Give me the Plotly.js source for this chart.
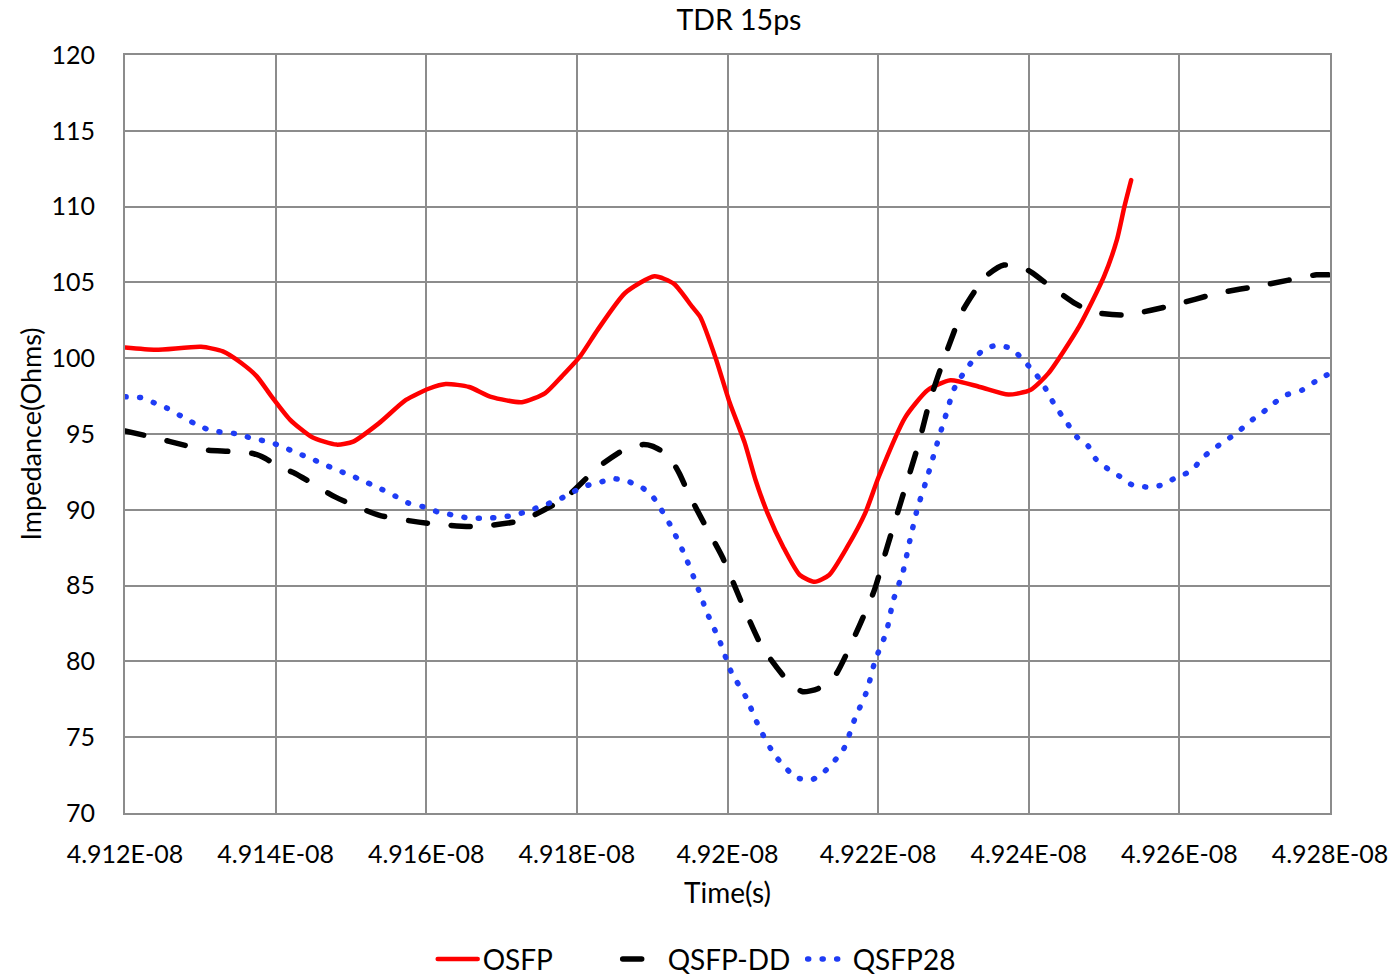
<!DOCTYPE html>
<html>
<head>
<meta charset="utf-8">
<script src="https://cdn.plot.ly/plotly-3.0.1.min.js"></script>
<style>
  html, body { margin: 0; padding: 0; background: #ffffff; }
  #chart { width: 1398px; height: 976px; }
</style>
</head>
<body>
<div id="chart"></div>
<script>
// TDR impedance profiles, 15 ps rise time
const seriesNames = ['OSFP', 'QSFP-DD', 'QSFP28'];

const osfpTime = [
  4.91200e-8, 4.91241e-8, 4.91301e-8, 4.91330e-8, 4.91354e-8, 4.91375e-8, 4.91395e-8,
  4.91419e-8, 4.91448e-8, 4.91481e-8, 4.91503e-8, 4.91537e-8, 4.91573e-8, 4.91604e-8,
  4.91626e-8, 4.91657e-8, 4.91686e-8, 4.91727e-8, 4.91758e-8, 4.91780e-8, 4.91804e-8,
  4.91828e-8, 4.91864e-8, 4.91903e-8, 4.91929e-8, 4.91953e-8, 4.91964e-8, 4.91985e-8,
  4.92002e-8, 4.92023e-8, 4.92037e-8, 4.92053e-8, 4.92074e-8, 4.92096e-8, 4.92116e-8,
  4.92135e-8, 4.92159e-8, 4.92183e-8, 4.92201e-8, 4.92236e-8, 4.92266e-8, 4.92296e-8,
  4.92335e-8, 4.92373e-8, 4.92402e-8, 4.92426e-8, 4.92467e-8, 4.92500e-8, 4.92517e-8,
  4.92527e-8, 4.92536e-8
];
const osfpZ = [
  100.7, 100.55, 100.75, 100.45, 99.7, 98.8, 97.45,
  95.95, 94.8, 94.3, 94.5, 95.7, 97.25, 98.0,
  98.3, 98.1, 97.45, 97.1, 97.7, 98.8, 100.1,
  101.9, 104.3, 105.4, 104.9, 103.4, 102.7, 99.9,
  97.2, 94.4, 92.0, 89.8, 87.55, 85.7, 85.25,
  85.7, 87.55, 89.8, 92.2, 96.1, 97.9, 98.55,
  98.1, 97.6, 97.9, 99.0, 102.1, 105.4, 107.8,
  110.0, 111.75
];

const qsfpddTime = [
  4.91200e-8, 4.91236e-8, 4.91260e-8, 4.91306e-8, 4.91339e-8, 4.91371e-8, 4.91386e-8,
  4.91406e-8, 4.91426e-8, 4.91479e-8, 4.91537e-8, 4.91604e-8, 4.91665e-8, 4.91727e-8,
  4.91775e-8, 4.91792e-8, 4.91828e-8, 4.91864e-8, 4.91888e-8, 4.91900e-8, 4.91921e-8,
  4.91936e-8, 4.91948e-8, 4.91969e-8, 4.91993e-8, 4.92019e-8, 4.92046e-8, 4.92082e-8,
  4.92100e-8, 4.92120e-8, 4.92142e-8, 4.92171e-8, 4.92195e-8, 4.92212e-8, 4.92231e-8,
  4.92254e-8, 4.92269e-8, 4.92290e-8, 4.92313e-8, 4.92343e-8, 4.92367e-8, 4.92399e-8,
  4.92423e-8, 4.92462e-8, 4.92485e-8, 4.92527e-8, 4.92592e-8, 4.92652e-8, 4.92710e-8,
  4.92782e-8, 4.92798e-8
];
const qsfpddZ = [
  95.2, 94.8, 94.5, 93.95, 93.85, 93.7, 93.4,
  92.8, 92.4, 90.85, 89.65, 89.1, 88.9, 89.3,
  90.5, 91.1, 92.8, 94.0, 94.3, 94.2, 93.6,
  92.4, 91.1, 89.1, 86.9, 83.85, 80.95, 78.6,
  78.0, 78.2, 79.0, 81.9, 84.7, 87.55, 90.65,
  94.4, 97.25, 100.3, 103.2, 105.4, 106.15, 105.8,
  104.95, 103.6, 103.05, 102.85, 103.5, 104.3, 104.8,
  105.5, 105.5
];

const qsfp28Time = [
  4.91200e-8, 4.91221e-8, 4.91239e-8, 4.91256e-8, 4.91274e-8, 4.91292e-8, 4.91310e-8,
  4.91330e-8, 4.91351e-8, 4.91369e-8, 4.91390e-8, 4.91407e-8, 4.91426e-8, 4.91446e-8,
  4.91464e-8, 4.91483e-8, 4.91503e-8, 4.91521e-8, 4.91541e-8, 4.91559e-8, 4.91576e-8,
  4.91596e-8, 4.91616e-8, 4.91636e-8, 4.91657e-8, 4.91677e-8, 4.91697e-8, 4.91717e-8,
  4.91737e-8, 4.91756e-8, 4.91775e-8, 4.91792e-8, 4.91810e-8, 4.91829e-8, 4.91849e-8,
  4.91869e-8, 4.91887e-8, 4.91901e-8, 4.91924e-8, 4.91942e-8, 4.91958e-8, 4.91973e-8,
  4.91990e-8, 4.92005e-8, 4.92025e-8, 4.92042e-8, 4.92063e-8, 4.92091e-8, 4.92112e-8,
  4.92128e-8, 4.92154e-8, 4.92169e-8, 4.92185e-8, 4.92196e-8, 4.92211e-8, 4.92220e-8,
  4.92233e-8, 4.92242e-8, 4.92252e-8, 4.92265e-8, 4.92277e-8, 4.92289e-8, 4.92302e-8,
  4.92325e-8, 4.92341e-8, 4.92359e-8, 4.92378e-8, 4.92394e-8, 4.92407e-8, 4.92419e-8,
  4.92428e-8, 4.92440e-8, 4.92452e-8, 4.92464e-8, 4.92479e-8, 4.92489e-8, 4.92505e-8,
  4.92521e-8, 4.92537e-8, 4.92559e-8, 4.92578e-8, 4.92598e-8, 4.92616e-8, 4.92629e-8,
  4.92645e-8, 4.92661e-8, 4.92677e-8, 4.92693e-8, 4.92710e-8, 4.92726e-8, 4.92743e-8,
  4.92763e-8, 4.92780e-8, 4.92796e-8
];
const qsfp28Z = [
  97.45, 97.4, 97.05, 96.7, 96.2, 95.7, 95.3,
  95.1, 95.0, 94.7, 94.5, 94.2, 93.8, 93.4,
  93.0, 92.6, 92.2, 91.8, 91.35, 90.9, 90.45,
  90.2, 89.85, 89.65, 89.45, 89.45, 89.5, 89.65,
  89.95, 90.3, 90.65, 91.1, 91.55, 91.8, 92.05,
  91.85, 91.45, 90.85, 89.0, 87.15, 85.2, 83.2,
  81.3, 79.3, 77.6, 75.65, 73.8, 72.35, 72.2,
  72.7, 74.2, 76.2, 78.05, 80.05, 81.95, 84.0,
  85.9, 87.95, 90.05, 92.1, 94.15, 96.1, 98.1,
  99.8, 100.6, 100.85, 100.6, 99.8, 99.1, 98.3,
  97.45, 96.5, 95.65, 94.8, 94.2, 93.35, 92.7,
  92.2, 91.65, 91.5, 91.65, 92.2, 92.55, 93.35,
  94.0, 94.55, 95.1, 95.8, 96.4, 97.05, 97.6,
  97.9, 98.45, 98.9
];

const timeTicks = [4.912e-8, 4.914e-8, 4.916e-8, 4.918e-8, 4.920e-8, 4.922e-8, 4.924e-8, 4.926e-8, 4.928e-8];
const timeTickLabels = ['4.912E-08', '4.914E-08', '4.916E-08', '4.918E-08', '4.92E-08',
                        '4.922E-08', '4.924E-08', '4.926E-08', '4.928E-08'];

const FONT = 'Lato, "Open Sans", sans-serif';
const GRID = '#8c8c8c';

const traces = [
  {
    name: seriesNames[0], x: osfpTime, y: osfpZ, type: 'scatter', mode: 'lines',
    line: { color: '#ff0000', width: 4.5, shape: 'spline', smoothing: 0.6 }
  },
  {
    name: seriesNames[1], x: qsfpddTime, y: qsfpddZ, type: 'scatter', mode: 'lines',
    line: { color: '#000000', width: 5.5, shape: 'spline', smoothing: 0.6, dash: '19px,24px' }
  },
  {
    name: seriesNames[2], x: qsfp28Time, y: qsfp28Z, type: 'scatter', mode: 'lines',
    line: { color: '#1f3cf5', width: 5.5, shape: 'spline', smoothing: 0.6, dash: '1px,13.5px' }
  }
];

const layout = {
  width: 1398,
  height: 976,
  paper_bgcolor: '#ffffff',
  plot_bgcolor: '#ffffff',
  font: { family: FONT, color: '#000000', size: 25 },
  margin: { l: 125, r: 68, t: 55, b: 163 },
  title: {
    text: 'TDR 15ps',
    font: { family: FONT, size: 28.5, color: '#000000' },
    xref: 'paper', x: 0.5095, xanchor: 'center',
    y: 0.979, yanchor: 'middle', yref: 'container'
  },
  showlegend: true,
  legend: {
    orientation: 'h',
    xref: 'container', x: 0.508, xanchor: 'center',
    yref: 'container', y: 0.017, yanchor: 'middle',
    font: { family: FONT, size: 28, color: '#000000' },
    itemwidth: 40,
    entrywidth: 130, entrywidthmode: 'pixels',
    bgcolor: 'rgba(0,0,0,0)'
  },
  xaxis: {
    range: [4.912e-8, 4.928e-8],
    tickmode: 'array',
    tickvals: timeTicks,
    ticktext: timeTickLabels,
    automargin: false,
    showgrid: true, gridcolor: GRID, gridwidth: 2,
    showline: true, linecolor: GRID, linewidth: 2, mirror: true,
    zeroline: false, ticks: '',
    ticklabelstandoff: 18,
    tickfont: { family: FONT, size: 25, color: '#000000' },
    title: { text: 'Time(s)', font: { family: FONT, size: 28, color: '#000000' }, standoff: 16 }
  },
  yaxis: {
    range: [70, 120],
    dtick: 5, tick0: 70,
    automargin: false,
    showgrid: true, gridcolor: GRID, gridwidth: 2,
    showline: true, linecolor: GRID, linewidth: 2, mirror: true,
    zeroline: false, ticks: '',
    ticklabelstandoff: 23,
    tickfont: { family: FONT, size: 25, color: '#000000' },
    title: { text: 'Impedance(Ohms)', font: { family: FONT, size: 27, color: '#000000' }, standoff: 2 }
  }
};

const gd = document.getElementById('chart');
Plotly.newPlot(gd, traces, layout, { displayModeBar: false, staticPlot: true }).then(function () {
  // rounded ends give the dashed and dotted series their pill/dot look
  gd.querySelectorAll('.scatterlayer path.js-line, .legendlines path').forEach(function (p) {
    p.style.strokeLinecap = 'round';
    p.style.strokeLinejoin = 'round';
  });
});
</script>
</body>
</html>
